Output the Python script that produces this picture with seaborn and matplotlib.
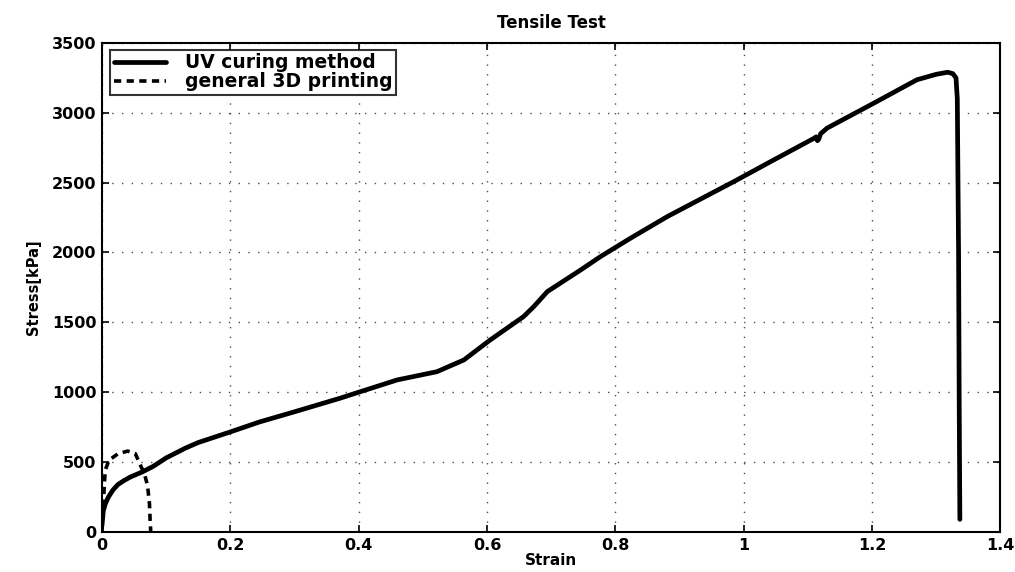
import numpy as np
import pandas as pd
import seaborn as sns
import matplotlib.pyplot as plt

# UV CURING METHOD (strain, stress in kPa)
uv_strain = [0.000, 0.002, 0.005, 0.010, 0.017, 0.025, 0.035, 0.045, 0.063, 0.080,
             0.100, 0.115, 0.130, 0.150, 0.200, 0.246, 0.300, 0.371, 0.400, 0.460,
             0.522, 0.564, 0.605, 0.657, 0.673, 0.694, 0.746, 0.777, 0.824, 0.881,
             0.985, 1.050, 1.110, 1.113, 1.115, 1.117, 1.120, 1.130, 1.203, 1.270,
             1.300, 1.318, 1.326, 1.331, 1.333, 1.335, 1.336, 1.337]
uv_stress = [50, 150, 200, 250, 300, 340, 370, 395, 430, 470,
             530, 565, 600, 640, 716, 788, 860, 957, 1000, 1088,
             1147, 1231, 1374, 1541, 1613, 1720, 1875, 1971, 2103, 2257,
             2508, 2670, 2818, 2828, 2800, 2810, 2850, 2890, 3069, 3236,
             3275, 3290, 3280, 3250, 3100, 2000, 900, 90]

# GENERAL 3D PRINTING
gen_strain = [0.000, 0.002, 0.005, 0.011, 0.025, 0.040, 0.052, 0.061, 0.066, 0.071,
              0.074, 0.075, 0.076]
gen_stress = [0, 200, 443, 514, 560, 579, 560, 466, 420, 330, 200, 80, 0]

x_ticks = [0, 0.2, 0.4, 0.6, 0.8, 1, 1.2, 1.4]
x_tick_labels = ["0", "0.2", "0.4", "0.6", "0.8", "1", "1.2", "1.4"]
y_ticks = [0, 500, 1000, 1500, 2000, 2500, 3000, 3500]

uv = pd.DataFrame({"strain": uv_strain, "stress": uv_stress})
gen = pd.DataFrame({"strain": gen_strain, "stress": gen_stress})

sns.set_style("ticks")
plt.rcParams["font.family"] = ["DejaVu Sans"]
plt.rcParams["font.weight"] = "bold"
plt.rcParams["text.color"] = "black"
plt.rcParams["axes.labelcolor"] = "black"
plt.rcParams["xtick.color"] = "black"
plt.rcParams["ytick.color"] = "black"

fig = plt.figure(figsize=(10.15, 5.72), dpi=100)
ax = fig.add_axes([0.1005, 0.07, 0.885, 0.855])

sns.lineplot(data=uv, x="strain", y="stress", sort=False, estimator=None,
             color="black", linewidth=3.4, label="UV curing method", ax=ax)
sns.lineplot(data=gen, x="strain", y="stress", sort=False, estimator=None,
             color="black", linewidth=2.6, linestyle=(0, (2, 1.5)),
             label="general 3D printing", ax=ax)

ax.set_xlim(0, 1.4)
ax.set_ylim(0, 3500)
ax.set_xticks(x_ticks)
ax.set_xticklabels(x_tick_labels)
ax.set_yticks(y_ticks)
ax.tick_params(direction="in", length=5, width=1.2, labelsize=11.5,
               top=True, right=True, pad=4)
for lab in ax.get_xticklabels() + ax.get_yticklabels():
    lab.set_fontweight("bold")
for sp in ax.spines.values():
    sp.set_linewidth(1.5)
    sp.set_color("black")

ax.grid(True, color="black", linestyle=(0, (1, 6)), linewidth=1.0, alpha=0.7)

ax.set_title("Tensile Test", fontsize=12, fontweight="bold", pad=11)
ax.set_xlabel("Strain", fontsize=11, fontweight="bold", labelpad=0)
ax.set_ylabel("Stress[kPa]", fontsize=10.5, fontweight="bold", labelpad=8)

leg = ax.legend(loc="upper left", fontsize=13.5, frameon=True, fancybox=False,
                handlelength=2.8, borderpad=0.2, labelspacing=0.0,
                handletextpad=1.0, borderaxespad=0,
                bbox_to_anchor=(0.009, 0.986))
leg.get_frame().set_edgecolor("black")
leg.get_frame().set_linewidth(1.5)
for t in leg.get_texts():
    t.set_fontweight("bold")

fig.savefig("out.png", dpi=100)
